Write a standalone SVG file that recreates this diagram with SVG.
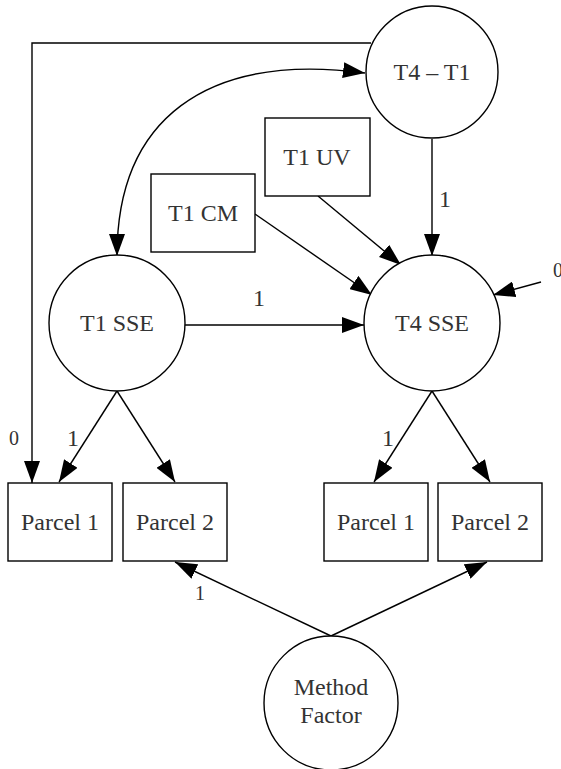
<svg xmlns="http://www.w3.org/2000/svg" width="561" height="769" viewBox="0 0 561 769">
<style>
.n{fill:#fff;stroke:#000;stroke-width:1.4}
.t{font-family:'Liberation Serif',Times,serif;font-size:24px;fill:#333;text-anchor:middle;dominant-baseline:central}
.e{fill:none;stroke:#000;stroke-width:1.4}
.l{font-family:'Liberation Serif',Times,serif;font-size:24px;fill:#333;text-anchor:middle}
.s{font-size:20px}
</style>
<defs>
<marker id="ah" markerUnits="userSpaceOnUse" markerWidth="22" markerHeight="16" refX="22" refY="8" orient="auto-start-reverse" viewBox="0 0 22 16"><path d="M0,0L22,8L0,16z" fill="#000"/></marker>
</defs>
<rect width="561" height="769" fill="#fff"/>
<g id="connectors">
<path class="e" d="M371,43H32V483" marker-end="url(#ah)"/>
<path class="e" d="M117,256C117,120 205,52 365,73" marker-start="url(#ah)" marker-end="url(#ah)"/>
<path class="e" d="M432,139V256" marker-end="url(#ah)"/>
<path class="e" d="M318,196L401,265" marker-end="url(#ah)"/>
<path class="e" d="M255,214L372,295" marker-end="url(#ah)"/>
<path class="e" d="M541,282L493,295" marker-end="url(#ah)"/>
<path class="e" d="M185,325H364" marker-end="url(#ah)"/>
<path class="e" d="M117,391L59,482" marker-end="url(#ah)"/>
<path class="e" d="M117,391L175,482" marker-end="url(#ah)"/>
<path class="e" d="M432,391L374,482" marker-end="url(#ah)"/>
<path class="e" d="M432,391L490,482" marker-end="url(#ah)"/>
<path class="e" d="M331,636L175,562" marker-end="url(#ah)"/>
<path class="e" d="M331,636L487,562" marker-end="url(#ah)"/>
<text class="l" x="445" y="207">1</text>
<text class="l" x="259" y="306">1</text>
<text class="l s" x="553" y="277" style="text-anchor:start">0</text>
<text class="l s" x="14" y="445">0</text>
<text class="l" x="73" y="446">1</text>
<text class="l" x="388" y="446">1</text>
<text class="l s" x="200" y="600">1</text>
</g>
<g id="T4T1"><circle class="n" cx="432" cy="72" r="66"/><text class="t" x="432" y="72">T4 – T1</text></g>
<g id="T1UV"><rect class="n" x="265" y="118" width="105" height="78"/><text class="t" x="317" y="157">T1 UV</text></g>
<g id="T1CM"><rect class="n" x="151" y="174" width="104" height="78"/><text class="t" x="203" y="213">T1 CM</text></g>
<g id="T1SSE"><circle class="n" cx="117" cy="323" r="68"/><text class="t" x="117" y="323">T1 SSE</text></g>
<g id="T4SSE"><circle class="n" cx="432" cy="323" r="68"/><text class="t" x="432" y="323">T4 SSE</text></g>
<g id="T1P1"><rect class="n" x="8" y="483" width="104" height="78"/><text class="t" x="60" y="522">Parcel 1</text></g>
<g id="T1P2"><rect class="n" x="123" y="483" width="104" height="78"/><text class="t" x="175" y="522">Parcel 2</text></g>
<g id="T4P1"><rect class="n" x="324" y="483" width="104" height="78"/><text class="t" x="376" y="522">Parcel 1</text></g>
<g id="T4P2"><rect class="n" x="438" y="483" width="104" height="78"/><text class="t" x="490" y="522">Parcel 2</text></g>
<g id="MF"><circle class="n" cx="331" cy="703" r="67"/><text class="t" x="331" y="687">Method</text><text class="t" x="331" y="715">Factor</text></g>
</svg>
